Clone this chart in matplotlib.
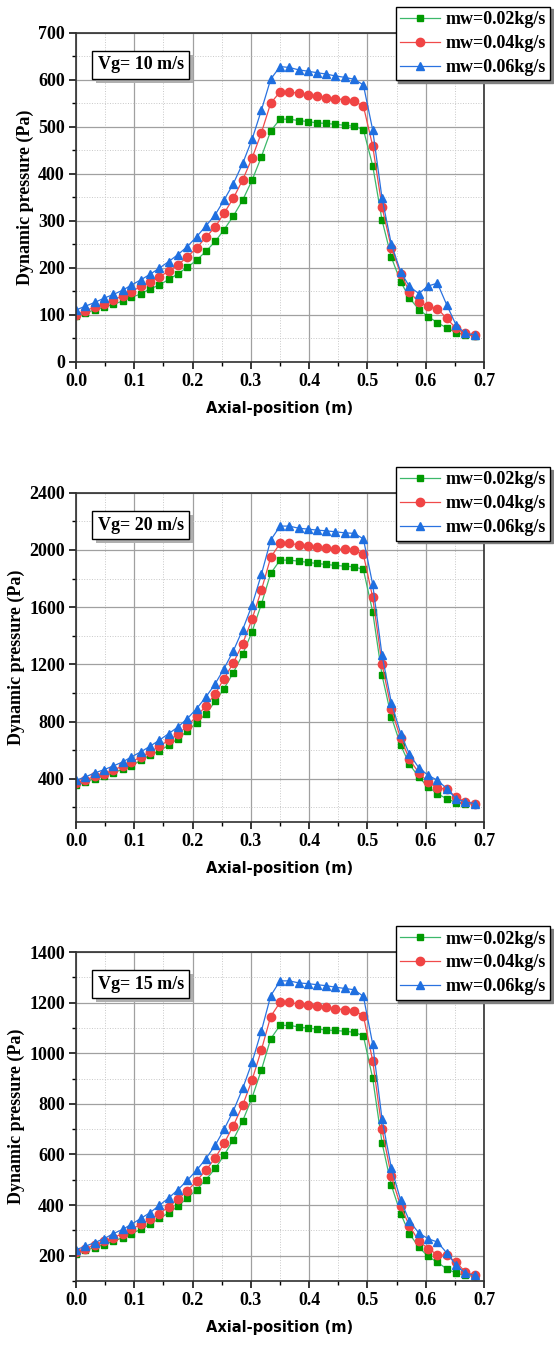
import matplotlib
matplotlib.use('Agg')
import matplotlib.pyplot as plt
import matplotlib.transforms as mtransforms
from matplotlib.patches import Rectangle
from matplotlib.ticker import MultipleLocator

# axial positions (m)
x_pos = [0.000, 0.016, 0.032, 0.048, 0.064, 0.080, 0.095, 0.111, 0.127, 0.143,
         0.159, 0.175, 0.191, 0.207, 0.223, 0.239, 0.254, 0.270, 0.286, 0.302,
         0.318, 0.334, 0.350, 0.366, 0.382, 0.398, 0.413, 0.429, 0.445, 0.461,
         0.477, 0.493, 0.509, 0.525, 0.541, 0.557, 0.572, 0.588, 0.604, 0.620,
         0.636, 0.652, 0.668, 0.684]

series_labels = ['mw=0.02kg/s', 'mw=0.04kg/s', 'mw=0.06kg/s']

# Vg = 10 m/s
vg10_02 = [97, 104, 110, 116, 122, 129, 137, 144, 155, 163,
           175, 187, 201, 216, 235, 256, 281, 310, 344, 386,
           436, 491, 516, 516, 513, 511, 508, 507, 505, 503,
           501, 494, 417, 301, 222, 170, 136, 111, 96, 83,
           72, 62, 57, 55]
vg10_04 = [100, 108, 116, 123, 131, 140, 149, 160, 169, 180,
           193, 206, 223, 242, 265, 287, 316, 348, 387, 433,
           487, 550, 574, 574, 571, 567, 565, 562, 560, 557,
           554, 544, 459, 329, 242, 187, 149, 126, 118, 113,
           92, 71, 60, 57]
vg10_06 = [110, 118, 126, 135, 143, 152, 163, 174, 186, 199,
           213, 228, 245, 266, 289, 313, 344, 379, 422, 473,
           535, 601, 628, 626, 621, 618, 615, 612, 608, 605,
           601, 589, 493, 348, 250, 191, 160, 145, 161, 167,
           121, 78, 60, 57]

# Vg = 20 m/s
vg20_02 = [355, 378, 401, 420, 443, 467, 490, 530, 565, 595,
           635, 681, 735, 791, 856, 942, 1031, 1143, 1271, 1428,
           1621, 1836, 1929, 1929, 1922, 1913, 1906, 1899, 1892, 1887,
           1882, 1864, 1567, 1124, 833, 635, 502, 413, 343, 296,
           261, 234, 227, 222]
vg20_04 = [371, 390, 418, 436, 460, 490, 518, 553, 588, 628,
           670, 712, 770, 838, 910, 996, 1101, 1211, 1346, 1516,
           1719, 1948, 2046, 2046, 2036, 2027, 2018, 2011, 2006, 2004,
           1999, 1969, 1668, 1201, 887, 682, 537, 443, 378, 336,
           327, 273, 238, 227]
vg20_06 = [390, 413, 441, 464, 490, 518, 553, 588, 628, 670,
           716, 763, 821, 891, 973, 1066, 1171, 1295, 1444, 1614,
           1829, 2069, 2167, 2167, 2152, 2146, 2139, 2134, 2127, 2120,
           2116, 2078, 1759, 1264, 933, 716, 572, 478, 425, 390,
           332, 261, 238, 227]

# Vg = 15 m/s
vg15_02 = [208, 221, 232, 244, 257, 271, 287, 304, 324, 347,
           369, 395, 428, 461, 501, 545, 597, 659, 733, 824,
           934, 1057, 1110, 1110, 1104, 1099, 1096, 1092, 1090, 1087,
           1083, 1069, 901, 646, 478, 366, 287, 234, 197, 174,
           148, 131, 122, 119]
vg15_04 = [215, 228, 241, 257, 271, 287, 304, 324, 344, 366,
           393, 423, 456, 496, 538, 587, 644, 714, 795, 894,
           1013, 1145, 1201, 1201, 1194, 1190, 1185, 1181, 1176, 1172,
           1168, 1149, 970, 699, 514, 395, 318, 258, 228, 204,
           201, 175, 135, 122]
vg15_06 = [224, 237, 252, 267, 287, 304, 324, 347, 370, 399,
           428, 461, 498, 538, 584, 637, 699, 773, 861, 964,
           1088, 1227, 1286, 1286, 1278, 1275, 1271, 1267, 1261, 1256,
           1251, 1225, 1036, 740, 547, 419, 337, 290, 267, 254,
           211, 162, 131, 122]

serif = ['Liberation Serif', 'DejaVu Serif']
sans = ['DejaVu Sans']

styles = [dict(marker='s', color='#3cb86a', mfc='#009a00', mec='#009a00', ms=5),
          dict(marker='o', color='#f04a4a', mfc='#f04444', mec='#f04444', ms=6),
          dict(marker='^', color='#2a72e0', mfc='#1f6fe0', mec='#1f6fe0', ms=6.3)]

panels = [
    ('Vg= 10 m/s', [vg10_02, vg10_04, vg10_06], (0, 700), 100, 50),
    ('Vg= 20 m/s', [vg20_02, vg20_04, vg20_06], (100, 2400), 400, 200),
    ('Vg= 15 m/s', [vg15_02, vg15_04, vg15_06], (100, 1400), 200, 100),
]
bottoms = [0.7313, 0.3895, 0.0483]

fig = plt.figure(figsize=(5.54, 13.46), dpi=100)
boxes = []

for (title, ys, ylim, major, minor), b in zip(panels, bottoms):
    ax = fig.add_axes([0.1372, b, 0.7365, 0.2444])
    for y, st, lab in zip(ys, styles, series_labels):
        ax.plot(x_pos, y, lw=0.9, label=lab, **st)
    ax.set_xlim(0, 0.7)
    ax.set_ylim(*ylim)
    ax.xaxis.set_major_locator(MultipleLocator(0.1))
    ax.xaxis.set_minor_locator(MultipleLocator(0.05))
    ax.yaxis.set_major_locator(MultipleLocator(major))
    ax.yaxis.set_minor_locator(MultipleLocator(minor))
    ax.set_xticks([i / 10 for i in range(8)])
    ax.set_xticklabels(['%.1f' % (i / 10) for i in range(8)])
    ax.grid(which='major', color='#a0a0a0', lw=0.9)
    ax.grid(which='minor', color='#c8c8c8', lw=0.7, ls=':')
    ax.set_axisbelow(True)
    ax.tick_params(which='major', direction='out', length=5, width=1.1, pad=3)
    ax.tick_params(which='minor', direction='out', length=3, width=1.0)
    for lbl in ax.get_xticklabels() + ax.get_yticklabels():
        lbl.set_fontfamily(serif)
        lbl.set_fontweight('bold')
        lbl.set_fontsize(13)
    for sp in ax.spines.values():
        sp.set_linewidth(1.2)
        sp.set_color('#303030')
    ax.set_xlabel('Axial-position (m)', fontfamily=sans, fontweight='bold',
                  fontsize=10.5, labelpad=8)
    ax.set_ylabel('Dynamic pressure (Pa)', fontfamily=serif, fontweight='bold',
                  fontsize=13, labelpad=3)

    t = ax.text(0.159, 0.902, title, transform=ax.transAxes, ha='center', va='center',
                fontfamily=serif, fontweight='bold', fontsize=13, zorder=5,
                bbox=dict(boxstyle='square,pad=0.3', fc='white', ec='black', lw=1.0))
    boxes.append((ax, t))

    leg = ax.legend(loc='upper right', bbox_to_anchor=(1.162, 1.079), borderaxespad=0,
                    fancybox=False, shadow={'color': '#808080', 'alpha': 1},
                    framealpha=1, edgecolor='black', handlelength=2.2,
                    handletextpad=0.3, labelspacing=0.38, borderpad=0.25,
                    prop={'family': serif, 'weight': 'bold', 'size': 13})
    leg.get_frame().set_linewidth(1.0)

# grey drop shadow behind the Vg text boxes
fig.canvas.draw()
renderer = fig.canvas.get_renderer()
for ax, t in boxes:
    bb = t.get_bbox_patch().get_window_extent(renderer)
    ax.add_patch(Rectangle((bb.x0 + 4, bb.y0 - 4), bb.width, bb.height,
                           transform=mtransforms.IdentityTransform(),
                           fc='#b0b0b0', ec='none', zorder=4.9, clip_on=False))

fig.savefig('out.png', dpi=100)
